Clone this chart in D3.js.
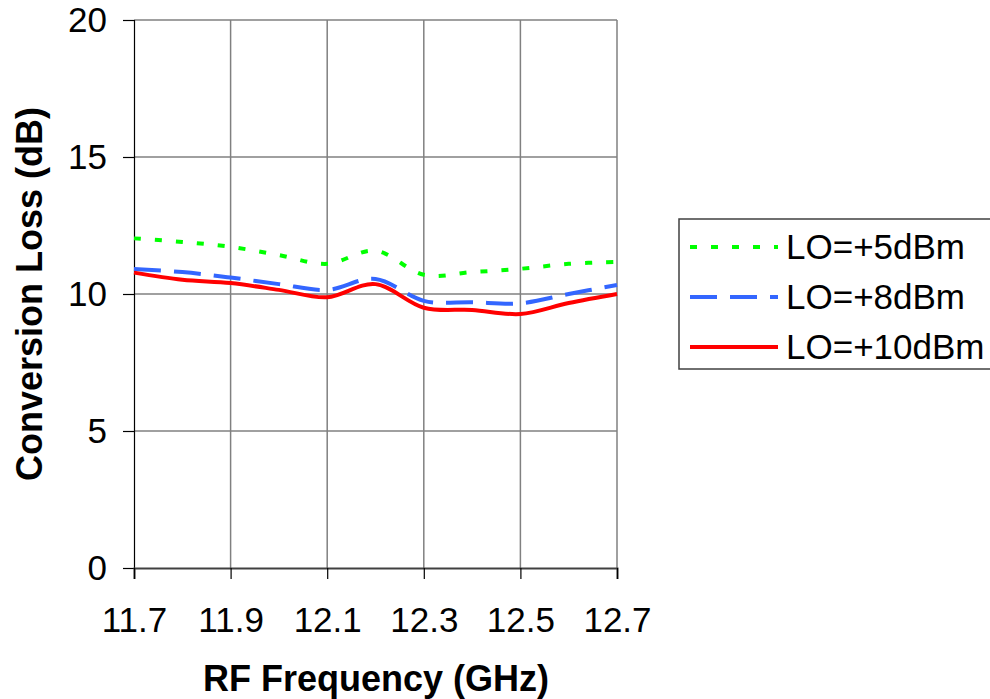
<!DOCTYPE html>
<html lang="en">
<head>
  <meta charset="UTF-8">
  <title>Conversion Loss vs RF Frequency</title>
  <style>
    body { margin: 0; background: #fff; }
    svg text { font-family: "Liberation Sans", Arial, sans-serif; }
  </style>
</head>
<body>
  <svg width="990" height="699"></svg>

  <script src="https://d3js.org/d3.v7.min.js"></script>
  <script>
    // data
    const freqs = [11.7, 11.8, 11.9, 12.0, 12.1, 12.2, 12.3, 12.4, 12.5, 12.6, 12.7];
    const lo5 = [12.03, 11.9, 11.72, 11.42, 11.1, 11.58, 10.7, 10.8, 10.92, 11.1, 11.17];
    const lo8 = [10.91, 10.8, 10.6, 10.36, 10.15, 10.55, 9.75, 9.7, 9.66, 10.0, 10.33];
    const lo10 = [10.78, 10.52, 10.4, 10.15, 9.88, 10.36, 9.5, 9.42, 9.27, 9.67, 10.0];
    const seriesNames = ['LO=+5dBm', 'LO=+8dBm', 'LO=+10dBm'];
    const xTicks = [11.7, 11.9, 12.1, 12.3, 12.5, 12.7];
    const yTicks = [0, 5, 10, 15, 20];

    const styles = [
      { color: '#00ff00', dash: '7,14' },
      { color: '#3366ff', dash: '27,13' },
      { color: '#ff0000', dash: null }
    ];
    const series = [lo5, lo8, lo10];

    const svg = d3.select('svg');
    const x = d3.scaleLinear().domain([11.7, 12.7]).range([134, 617]);
    const y = d3.scaleLinear().domain([0, 20]).range([568, 20]);

    // gridlines
    svg.append('g').selectAll('line')
      .data(yTicks.filter(d => d > 0))
      .enter().append('line')
      .attr('x1', x(11.7)).attr('x2', x(12.7))
      .attr('y1', d => y(d)).attr('y2', d => y(d))
      .attr('stroke', '#808080').attr('stroke-width', 1.5);

    svg.append('g').selectAll('line')
      .data(xTicks.slice(1))
      .enter().append('line')
      .attr('x1', d => x(d)).attr('x2', d => x(d))
      .attr('y1', y(0)).attr('y2', y(20))
      .attr('stroke', '#808080').attr('stroke-width', 1.5);

    // axes
    const yAxis = svg.append('g')
      .attr('transform', `translate(${x(11.7)},0)`)
      .call(d3.axisLeft(y).tickValues(yTicks).tickSize(11).tickPadding(16));
    const xAxis = svg.append('g')
      .attr('transform', `translate(0,${y(0)})`)
      .call(d3.axisBottom(x).tickValues(xTicks).tickFormat(d3.format('.1f')).tickSize(11).tickPadding(28));

    [yAxis, xAxis].forEach(a => {
      a.select('.domain').attr('stroke', '#000').attr('stroke-width', 1.2);
      a.selectAll('.tick line').attr('stroke', '#000').attr('stroke-width', 1.2);
      a.selectAll('.tick text')
        .attr('font-family', '"Liberation Sans", Arial, sans-serif')
        .attr('font-size', 35).attr('fill', '#000');
    });
    xAxis.select('.domain').attr('stroke', '#404040').attr('stroke-width', 2);

    // series lines
    const line = d3.line()
      .x((d, i) => x(freqs[i]))
      .y(d => y(d))
      .curve(d3.curveCatmullRom.alpha(0));

    series.forEach((s, k) => {
      svg.append('path')
        .datum(s)
        .attr('d', line)
        .attr('fill', 'none')
        .attr('stroke', styles[k].color)
        .attr('stroke-width', 4)
        .attr('stroke-dasharray', styles[k].dash);
    });

    // axis titles
    svg.append('text')
      .attr('x', 376).attr('y', 691)
      .attr('text-anchor', 'middle')
      .attr('font-size', 36).attr('font-weight', 'bold')
      .text('RF Frequency (GHz)');

    svg.append('text')
      .attr('transform', 'translate(42,294) rotate(-90)')
      .attr('text-anchor', 'middle')
      .attr('font-size', 36).attr('font-weight', 'bold')
      .text('Conversion Loss (dB)');

    // legend
    const legend = svg.append('g');
    legend.append('rect')
      .attr('x', 679).attr('y', 219)
      .attr('width', 330).attr('height', 150)
      .attr('fill', '#fff').attr('stroke', '#404040').attr('stroke-width', 1.5);

    const legendRows = legend.selectAll('g.row')
      .data(seriesNames)
      .enter().append('g')
      .attr('class', 'row')
      .attr('transform', (d, i) => `translate(0,${247 + i * 50})`);

    legendRows.append('line')
      .attr('x1', 690).attr('x2', 778)
      .attr('stroke', (d, i) => styles[i].color)
      .attr('stroke-width', 4)
      .attr('stroke-dasharray', (d, i) => styles[i].dash);

    legendRows.append('text')
      .attr('x', 786).attr('y', 12)
      .attr('font-size', 35)
      .text(d => d);
  </script>
</body>
</html>
